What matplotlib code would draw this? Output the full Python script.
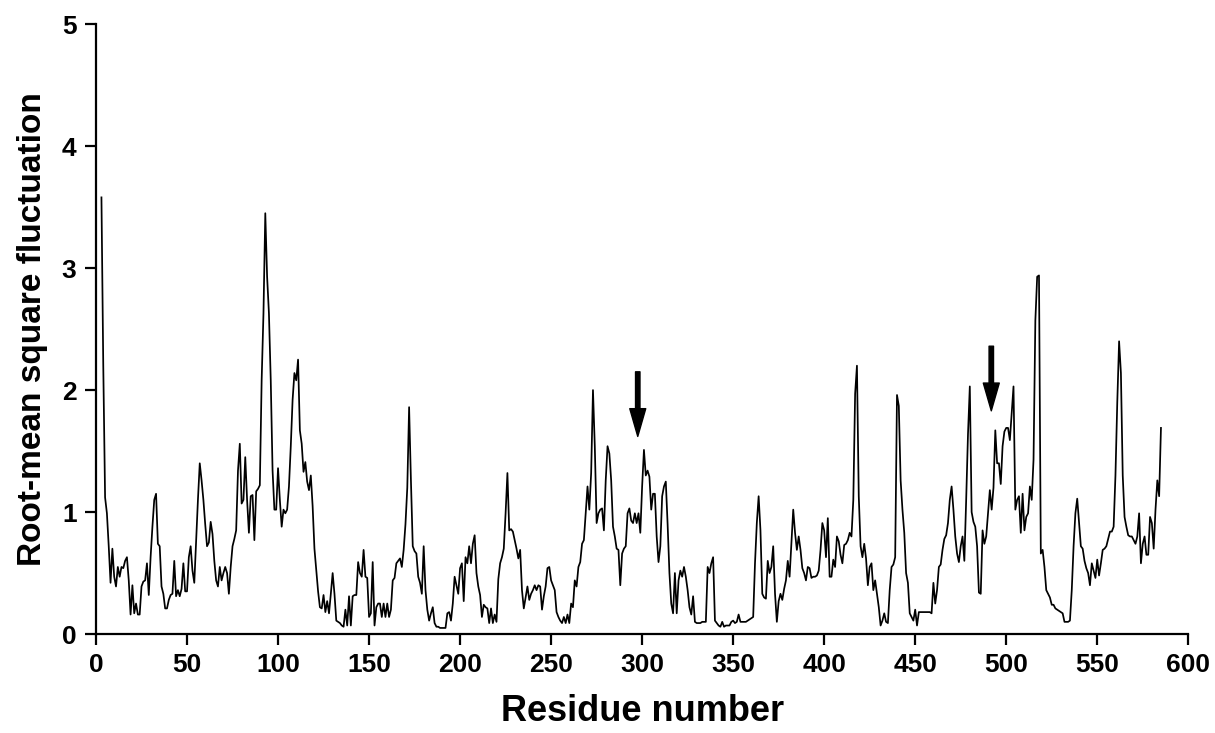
import matplotlib
matplotlib.use("Agg")
import matplotlib.pyplot as plt
from matplotlib.ticker import MultipleLocator

plt.rcParams['font.family'] = ['Liberation Sans', 'DejaVu Sans']
plt.rcParams['font.weight'] = 'bold'

# RMSF values read per residue (3..585)
residue = list(range(3, 586))
rmsf = [
    3.58, 2.2, 1.12, 0.99, 0.72, 0.42, 0.7, 0.47, 0.39, 0.55,          # 3-12
    0.47, 0.55, 0.54, 0.6, 0.63, 0.44, 0.16, 0.4, 0.17, 0.25,          # 13-22
    0.16, 0.16, 0.39, 0.43, 0.44, 0.58, 0.32, 0.63, 0.88, 1.1,         # 23-32
    1.15, 0.74, 0.72, 0.39, 0.33, 0.21, 0.21, 0.28, 0.32, 0.33,        # 33-42
    0.6, 0.31, 0.36, 0.31, 0.37, 0.58, 0.35, 0.35, 0.63, 0.72,         # 43-52
    0.52, 0.42, 0.77, 1.1, 1.4, 1.26, 1.1, 0.9, 0.72, 0.75,            # 53-62
    0.92, 0.82, 0.6, 0.44, 0.39, 0.55, 0.44, 0.5, 0.55, 0.5,           # 63-72
    0.33, 0.55, 0.72, 0.78, 0.85, 1.34, 1.56, 1.07, 1.1, 1.45,         # 73-82
    1.1, 0.83, 1.13, 1.14, 0.77, 1.17, 1.19, 1.22, 2.08, 2.63,         # 83-92
    3.45, 2.93, 2.63, 2.08, 1.34, 1.02, 1.02, 1.36, 1.1, 0.88,         # 93-102
    1.02, 0.99, 1.02, 1.21, 1.54, 1.92, 2.14, 2.08, 2.25, 1.67,        # 103-112
    1.56, 1.33, 1.41, 1.25, 1.18, 1.3, 1.05, 0.7, 0.52, 0.35,          # 113-122
    0.22, 0.21, 0.32, 0.18, 0.27, 0.17, 0.33, 0.5, 0.33, 0.11,         # 123-132
    0.1, 0.09, 0.07, 0.06, 0.2, 0.07, 0.31, 0.07, 0.31, 0.32,          # 133-142
    0.32, 0.59, 0.5, 0.47, 0.69, 0.47, 0.46, 0.14, 0.17, 0.59,         # 143-152
    0.07, 0.22, 0.25, 0.25, 0.14, 0.25, 0.14, 0.25, 0.14, 0.2,         # 153-162
    0.44, 0.46, 0.58, 0.6, 0.62, 0.55, 0.69, 0.9, 1.2, 1.86,           # 163-172
    1.26, 0.72, 0.68, 0.66, 0.47, 0.42, 0.33, 0.72, 0.36, 0.2,         # 173-182
    0.11, 0.17, 0.22, 0.09, 0.06, 0.06, 0.05, 0.05, 0.05, 0.05,        # 183-192
    0.17, 0.18, 0.11, 0.25, 0.47, 0.4, 0.33, 0.54, 0.58, 0.27,         # 193-202
    0.63, 0.58, 0.72, 0.58, 0.74, 0.81, 0.5, 0.39, 0.32, 0.14,         # 203-212
    0.24, 0.22, 0.21, 0.09, 0.21, 0.09, 0.16, 0.1, 0.45, 0.58,         # 213-222
    0.63, 0.7, 0.99, 1.32, 0.85, 0.86, 0.84, 0.77, 0.7, 0.62,          # 223-232
    0.69, 0.36, 0.21, 0.3, 0.39, 0.28, 0.33, 0.36, 0.4, 0.36,          # 233-242
    0.4, 0.39, 0.2, 0.31, 0.39, 0.54, 0.55, 0.44, 0.4, 0.36,           # 243-252
    0.18, 0.14, 0.11, 0.09, 0.14, 0.09, 0.16, 0.09, 0.25, 0.22,        # 253-262
    0.44, 0.39, 0.55, 0.59, 0.74, 0.77, 0.99, 1.21, 1.02, 1.32,        # 263-272
    2.0, 1.54, 0.91, 0.99, 1.02, 1.03, 0.85, 1.26, 1.54, 1.48,         # 273-282
    1.26, 0.88, 0.8, 0.7, 0.69, 0.4, 0.66, 0.7, 0.72, 0.99,            # 283-292
    1.03, 0.93, 0.91, 0.99, 0.91, 0.99, 0.83, 1.21, 1.51, 1.3,         # 293-302
    1.34, 1.29, 1.02, 1.15, 1.15, 0.8, 0.59, 0.72, 1.13, 1.21,         # 303-312
    1.25, 0.9, 0.5, 0.25, 0.17, 0.5, 0.17, 0.44, 0.52, 0.47,           # 313-322
    0.55, 0.47, 0.36, 0.22, 0.16, 0.31, 0.1, 0.09, 0.09, 0.09,         # 323-332
    0.1, 0.1, 0.1, 0.55, 0.5, 0.58, 0.63, 0.11, 0.09, 0.07,            # 333-342
    0.06, 0.1, 0.06, 0.07, 0.07, 0.07, 0.1, 0.11, 0.09, 0.1,           # 343-352
    0.16, 0.1, 0.1, 0.1, 0.1, 0.11, 0.12, 0.13, 0.14, 0.58,            # 353-362
    0.91, 1.13, 0.85, 0.33, 0.3, 0.29, 0.6, 0.5, 0.55, 0.72,           # 363-372
    0.33, 0.1, 0.27, 0.33, 0.28, 0.37, 0.44, 0.6, 0.47, 0.74,          # 373-382
    1.02, 0.83, 0.69, 0.8, 0.69, 0.54, 0.5, 0.44, 0.55, 0.54,          # 383-392
    0.46, 0.47, 0.47, 0.48, 0.52, 0.69, 0.91, 0.85, 0.63, 0.95,        # 393-402
    0.47, 0.47, 0.61, 0.55, 0.8, 0.76, 0.65, 0.58, 0.73, 0.74,         # 403-412
    0.77, 0.83, 0.8, 1.1, 1.97, 2.2, 1.13, 0.72, 0.63, 0.74,           # 413-422
    0.62, 0.4, 0.55, 0.58, 0.36, 0.44, 0.33, 0.22, 0.07, 0.11,         # 423-432
    0.17, 0.1, 0.09, 0.36, 0.55, 0.57, 0.63, 1.96, 1.87, 1.26,         # 433-442
    1.02, 0.83, 0.5, 0.42, 0.17, 0.14, 0.11, 0.2, 0.07, 0.18,          # 443-452
    0.18, 0.18, 0.18, 0.18, 0.18, 0.18, 0.17, 0.42, 0.25, 0.36,        # 453-462
    0.55, 0.57, 0.69, 0.78, 0.81, 0.91, 1.1, 1.21, 1.02, 0.8,          # 463-472
    0.66, 0.59, 0.72, 0.8, 0.6, 1.1, 1.64, 2.03, 1.0, 0.92,            # 473-482
    0.88, 0.72, 0.34, 0.33, 0.85, 0.74, 0.8, 0.99, 1.18, 1.02,         # 483-492
    1.2, 1.67, 1.4, 1.4, 1.23, 1.54, 1.66, 1.69, 1.69, 1.59,           # 493-502
    1.81, 2.03, 1.02, 1.1, 1.13, 0.83, 1.15, 0.85, 0.96, 0.99,         # 503-512
    1.21, 1.1, 1.43, 2.57, 2.93, 2.94, 0.66, 0.69, 0.55, 0.36,         # 513-522
    0.33, 0.3, 0.24, 0.24, 0.21, 0.2, 0.19, 0.18, 0.17, 0.1,           # 523-532
    0.1, 0.1, 0.11, 0.36, 0.72, 0.99, 1.11, 0.91, 0.72, 0.7,           # 533-542
    0.6, 0.54, 0.5, 0.4, 0.58, 0.52, 0.46, 0.61, 0.48, 0.58,           # 543-552
    0.69, 0.7, 0.72, 0.78, 0.84, 0.84, 0.88, 1.3, 1.9, 2.4,            # 553-562
    2.14, 1.3, 0.96, 0.88, 0.81, 0.8, 0.8, 0.77, 0.74, 0.8,            # 563-572
    0.99, 0.58, 0.74, 0.8, 0.65, 0.65, 0.96, 0.91, 0.7, 1.02,          # 573-582
    1.26, 1.13, 1.69,                                                  # 583-585
]

# residues marked with arrows: (residue, arrow top, arrow tip)
arrow_res = [297.6, 491.8]
arrow_top = [2.15, 2.36]
arrow_tip = [1.62, 1.83]

fig = plt.figure(figsize=(12.15, 7.33), dpi=100)
ax = fig.add_axes([0.079, 0.135, 0.899, 0.832])

ax.plot(residue, rmsf, color='black', lw=1.25)

for xr, yt, yb in zip(arrow_res, arrow_top, arrow_tip):
    ax.annotate('', xy=(xr, yb), xytext=(xr, yt),
                arrowprops=dict(facecolor='black', edgecolor='black',
                                width=3.2, headwidth=11.5, headlength=20))

ax.set_xlim(0, 600)
ax.set_ylim(0, 5)
ax.xaxis.set_major_locator(MultipleLocator(50))
ax.yaxis.set_major_locator(MultipleLocator(1))

for side in ['top', 'right']:
    ax.spines[side].set_visible(False)
for side in ['left', 'bottom']:
    ax.spines[side].set_linewidth(1.6)

ax.tick_params(axis='both', which='major', direction='out', length=8,
               width=1.6, labelsize=19, pad=6)
for label in ax.get_xticklabels() + ax.get_yticklabels():
    label.set_fontweight('bold')

ax.set_xlabel('Residue number', fontsize=26, fontweight='bold', labelpad=12)
ax.set_ylabel('Root-mean square fluctuation', fontsize=24, fontweight='bold', labelpad=10)

plt.savefig('out.png', dpi=100)
